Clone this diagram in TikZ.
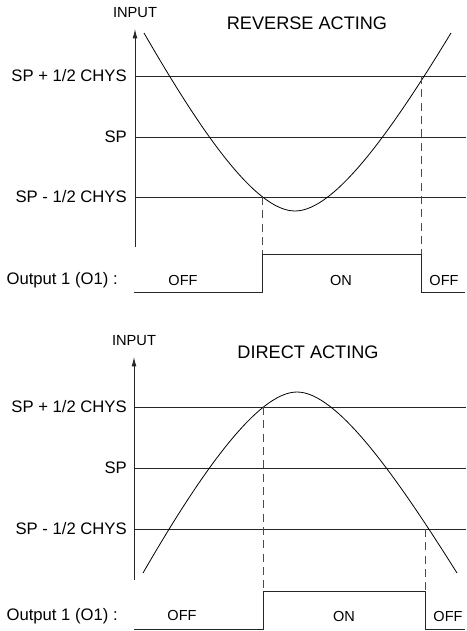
\documentclass[tikz,border=0pt]{standalone}
\usepackage{fontspec}
\setmainfont{Liberation Sans}
\usetikzlibrary{arrows.meta}

\begin{document}
\begin{tikzpicture}[
  x=0.75pt, y=-0.75pt,
  line/.style={line width=0.6pt, draw=black!85},
  axis/.style={line, -{Latex[length=7pt,width=3.6pt]}},
  guide/.style={line width=0.6pt, draw=black!70, dash pattern=on 6pt off 4pt},
  curve/.style={line width=0.6pt, draw=black},
  level/.style={anchor=east, inner sep=0pt, font=\fontsize{12.5}{14}\selectfont},
  title/.style={font=\fontsize{13.6}{16}\selectfont},
  state/.style={font=\fontsize{10.9}{13}\selectfont},
  axlabel/.style={font=\fontsize{11}{13}\selectfont}
]
\useasboundingbox (0,0) rectangle (467,631);

% reverse acting
\node[axlabel] (in1) at (135,13) {INPUT};
\node[title] (title1) at (307,23) {REVERSE ACTING};
\coordinate (axbot1) at (135,247);
\coordinate (axtop1) at (135,29);
\draw[axis] (axbot1) -- (axtop1);
\node[level] (hi1) at (127,76) {SP + 1/2 CHYS};
\node[level] (sp1) at (127,137) {SP};
\node[level] (lo1) at (127,197) {SP - 1/2 CHYS};
\draw[line] (135,76) -- (466,76);
\draw[line] (135,137) -- (466,137);
\draw[line] (135,197) -- (466,197);
\coordinate (min1) at (295,211);
\draw[curve] (144,33) .. controls (200,130) and (255,211) .. (min1)
  .. controls (335,211) and (392,130) .. (451,33);
\coordinate (on1) at (262,197);
\coordinate (off1) at (421,76);
\draw[guide] (on1) -- (262,254);
\draw[guide] (off1) -- (421,254);
\node[level] (out1) at (118,280) {Output 1 (O1) :};
\draw[line] (134,292) -- (262,292) -- (262,254) -- (421,254) -- (421,292) -- (465,292);
\node[state] (offa1) at (183,280) {OFF};
\node[state] (onb1) at (341,280) {ON};
\node[state] (offc1) at (444,280) {OFF};

% direct acting
\node[axlabel] (in2) at (134,341) {INPUT};
\node[title] (title2) at (308,352) {DIRECT ACTING};
\coordinate (axbot2) at (134,580);
\coordinate (axtop2) at (134,357);
\draw[axis] (axbot2) -- (axtop2);
\node[level] (hi2) at (127,407) {SP + 1/2 CHYS};
\node[level] (sp2) at (127,468) {SP};
\node[level] (lo2) at (127,529) {SP - 1/2 CHYS};
\draw[line] (134,407) -- (466,407);
\draw[line] (134,468) -- (466,468);
\draw[line] (134,529) -- (466,529);
\coordinate (max2) at (297,392);
\draw[curve] (143,573) .. controls (199,476) and (257,392) .. (max2)
  .. controls (337,392) and (396,476) .. (457,573);
\coordinate (on2) at (263,407);
\coordinate (off2) at (425,529);
\draw[guide] (on2) -- (263,591);
\draw[guide] (off2) -- (425,591);
\node[level] (out2) at (118,616) {Output 1 (O1) :};
\draw[line] (134,629) -- (263,629) -- (263,591) -- (425,591) -- (425,629) -- (465,629);
\node[state] (offa2) at (182,615) {OFF};
\node[state] (onb2) at (344,616) {ON};
\node[state] (offc2) at (448,616) {OFF};
\end{tikzpicture}
\end{document}
